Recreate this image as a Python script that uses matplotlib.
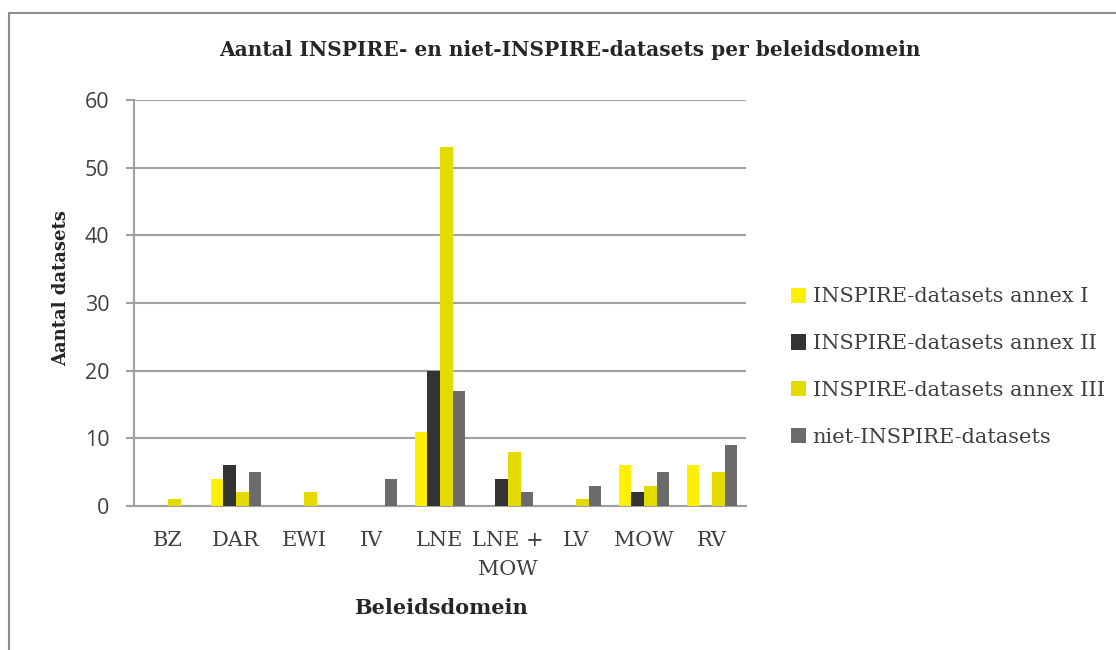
import matplotlib
matplotlib.use("Agg")
import matplotlib.pyplot as plt
import numpy as np
from matplotlib.lines import Line2D

categories = ["BZ", "DAR", "EWI", "IV", "LNE", "LNE +\nMOW", "LV", "MOW", "RV"]
annex_I = [0, 4, 0, 0, 11, 0, 0, 6, 6]
annex_II = [0, 6, 0, 0, 20, 4, 0, 2, 0]
annex_III = [1, 2, 2, 0, 53, 8, 1, 3, 5]
niet_inspire = [0, 5, 0, 4, 17, 2, 3, 5, 9]
series_names = ["INSPIRE-datasets annex I", "INSPIRE-datasets annex II",
                "INSPIRE-datasets annex III", "niet-INSPIRE-datasets"]
series = [annex_I, annex_II, annex_III, niet_inspire]
colors = ["#FFF000", "#333333", "#E5DA00", "#6B6B6B"]

W, H = 1116, 650
fig = plt.figure(figsize=(W / 100, H / 100), dpi=100)
fig.patch.set_facecolor("white")

# outer frame
fig.add_artist(Line2D([9 / W, 9 / W], [0, 1 - 13 / H], transform=fig.transFigure,
                      color="#8C8C8C", lw=1.5))
fig.add_artist(Line2D([9 / W, 1], [1 - 13 / H, 1 - 13 / H], transform=fig.transFigure,
                      color="#8C8C8C", lw=1.5))

left, right, top, bottom = 134, 746, 100, 506
ax = fig.add_axes([left / W, 1 - bottom / H, (right - left) / W, (bottom - top) / H])

x = np.arange(len(categories))
bw = 0.185
for i, (vals, name, c) in enumerate(zip(series, series_names, colors)):
    ax.bar(x + (i - 1.5) * bw, vals, width=bw, color=c, label=name, zorder=3)

ax.set_xlim(-0.5, len(categories) - 0.5)
ax.set_ylim(0, 60)
ax.set_yticks(range(0, 61, 10))
ax.yaxis.grid(True, color="#A0A0A0", lw=1.5, zorder=0)
for s in ["top", "right"]:
    ax.spines[s].set_visible(False)
ax.spines["left"].set_color("#A0A0A0")
ax.spines["left"].set_linewidth(1.5)
ax.spines["bottom"].set_color("#A0A0A0")
ax.spines["bottom"].set_linewidth(1.5)
ax.tick_params(axis="y", length=5.8, width=1.5, color="#A0A0A0", pad=12,
               labelsize=15.5, labelcolor="#404040")
ax.tick_params(axis="x", length=0, pad=18)
for lbl in ax.get_yticklabels():
    lbl.set_fontfamily("Open Sans")
ax.set_xticks(x)
ax.set_xticklabels(categories, fontfamily="DejaVu Serif", fontsize=15,
                   color="#404040", linespacing=1.65)

fig.text(61 / W, 1 - 288 / H, "Aantal datasets", rotation=90, ha="center", va="center",
         fontfamily="DejaVu Serif", fontsize=13, fontweight="bold",
         color="#262626")
fig.text(441 / W, 1 - 608 / H, "Beleidsdomein", ha="center", va="center",
         fontfamily="DejaVu Serif", fontsize=15, fontweight="bold",
         color="#262626")

fig.text(570 / W, 1 - 50 / H, "Aantal INSPIRE- en niet-INSPIRE-datasets per beleidsdomein",
         ha="center", va="center", fontfamily="DejaVu Serif", fontsize=14.5,
         fontweight="bold", color="#262626")

leg = fig.legend(loc="center left", bbox_to_anchor=(772 / W, 1 - 367 / H),
                 frameon=False, prop={"family": "DejaVu Serif", "size": 15},
                 handlelength=0.75, handleheight=0.75, handletextpad=0.3,
                 labelspacing=1.33)
for t in leg.get_texts():
    t.set_color("#404040")

fig.savefig("out.png", dpi=100, facecolor="white")
